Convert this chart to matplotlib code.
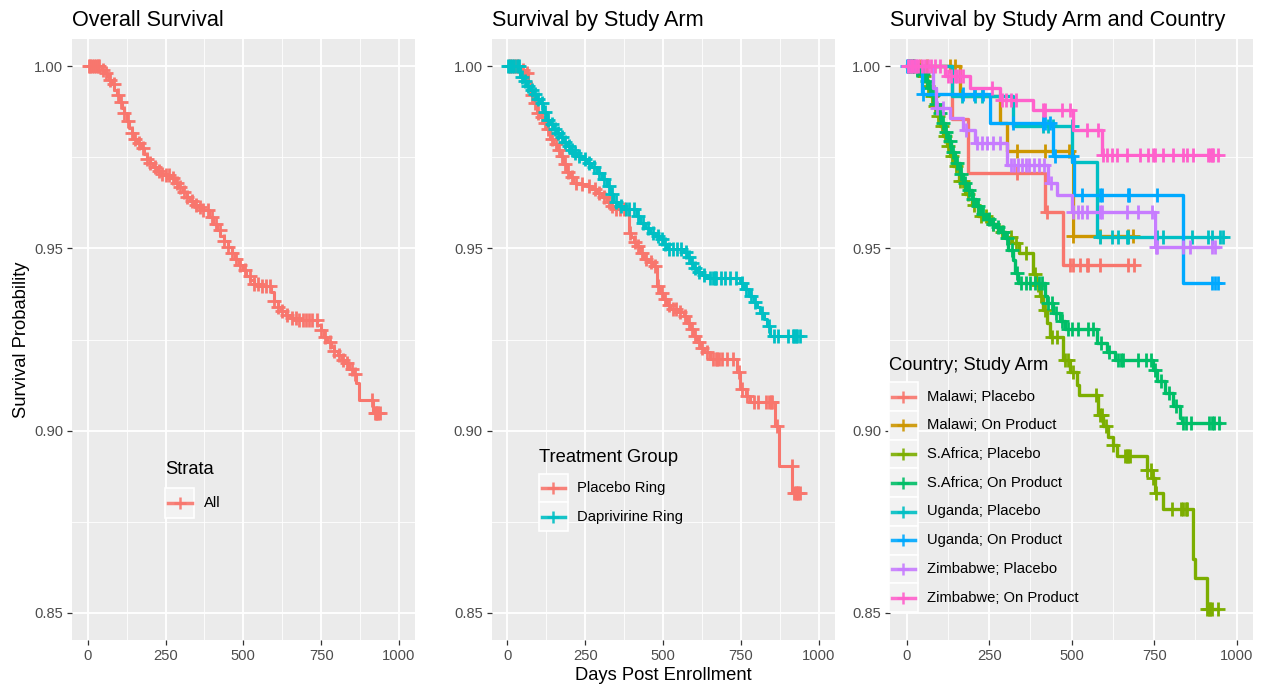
import numpy as np
import matplotlib
matplotlib.use("Agg")
import matplotlib.pyplot as plt
from matplotlib.patches import Rectangle
from matplotlib.lines import Line2D

W, H = 1264, 685
plt.rcParams['font.family'] = ['Liberation Sans', 'DejaVu Sans']

# ---------------- Overall survival (all participants) ----------------
all_t = [45, 55, 62, 70, 78, 86, 94, 102, 110, 118, 126, 134, 142, 150, 160, 170, 180, 190,
         200, 210, 222, 236, 252, 268, 282, 294, 306, 318, 330, 342, 356, 372, 390, 402, 414,
         426, 438, 450, 462, 474, 486, 498, 510, 522, 534, 560, 588, 598, 610, 622, 636, 652,
         672, 738, 748, 758, 768, 780, 792, 804, 816, 828, 840, 852, 862, 872, 917]
all_s = [0.9990, 0.9982, 0.9972, 0.9962, 0.9950, 0.9935, 0.9920, 0.9900, 0.9885, 0.9870,
         0.9850, 0.9830, 0.9815, 0.9800, 0.9788, 0.9775, 0.9760, 0.9745, 0.9733, 0.9722,
         0.9712, 0.9705, 0.9700, 0.9692, 0.9680, 0.9668, 0.9655, 0.9642, 0.9630, 0.9620,
         0.9612, 0.9606, 0.9585, 0.9568, 0.9550, 0.9535, 0.9520, 0.9503, 0.9487, 0.9470,
         0.9455, 0.9440, 0.9425, 0.9412, 0.9402, 0.9396, 0.9380, 0.9355, 0.9340, 0.9327,
         0.9318, 0.9310, 0.9303, 0.9290, 0.9275, 0.9258, 0.9242, 0.9230, 0.9218, 0.9208,
         0.9195, 0.9185, 0.9170, 0.9155, 0.9130, 0.9085, 0.9048]
all_end = 940
all_cens = [3, 8, 14, 20, 26, 32, 38, 48, 60, 72, 84, 96, 108, 118, 130, 142, 152, 165, 178,
            190, 200, 215, 228, 240, 252, 262, 274, 286, 298, 310, 320, 335, 348, 360, 372,
            386, 400, 412, 425, 438, 450, 462, 475, 490, 505, 520, 535, 548, 560, 572, 585,
            598, 612, 625, 640, 655, 668, 680, 690, 700, 710, 720, 735, 748, 762, 778, 792,
            806, 820, 834, 848, 858, 912, 922, 926, 930, 934, 940]

# ---------------- By study arm ----------------
pla_t = [45, 58, 68, 76, 84, 94, 104, 114, 126, 137, 148, 158, 169, 180, 190, 200, 212, 230,
         255, 272, 287, 303, 319, 330, 340, 389, 398, 407, 415, 426, 437, 452, 469, 480, 490,
         501, 512, 523, 545, 566, 577, 587, 598, 608, 619, 630, 651, 737, 748, 765, 780, 860,
         871, 914]
pla_s = [0.9990, 0.9980, 0.9955, 0.9920, 0.9898, 0.9872, 0.9860, 0.9845, 0.9826, 0.9800,
         0.9785, 0.9770, 0.9753, 0.9730, 0.9708, 0.9695, 0.9680, 0.9676, 0.9671, 0.9662,
         0.9653, 0.9640, 0.9626, 0.9615, 0.9607, 0.9543, 0.9530, 0.9518, 0.9507, 0.9488,
         0.9470, 0.9462, 0.9452, 0.9397, 0.9378, 0.9360, 0.9345, 0.9333, 0.9325, 0.9315,
         0.9296, 0.9278, 0.9260, 0.9242, 0.9228, 0.9215, 0.9196, 0.9160, 0.9114, 0.9095,
         0.9078, 0.9014, 0.8904, 0.8830]
pla_end = 940
pla_cens = [5, 12, 20, 28, 35, 50, 62, 80, 90, 100, 110, 122, 132, 145, 155, 165, 175, 185,
            195, 206, 220, 240, 262, 280, 295, 310, 325, 335, 350, 362, 375, 395, 410, 420,
            432, 445, 460, 475, 485, 495, 506, 518, 530, 540, 555, 570, 582, 592, 603, 614,
            625, 640, 660, 668, 672, 680, 690, 705, 725, 742, 752, 770, 790, 805, 830, 840,
            845, 850, 865, 912, 920, 925, 928, 932, 940]

dap_t = [42, 52, 62, 73, 84, 95, 105, 115, 126, 137, 148, 159, 170, 180, 191, 202, 212, 223,
         240, 255, 270, 287, 303, 319, 330, 340, 356, 373, 415, 426, 442, 458, 474, 490, 501,
         512, 566, 577, 587, 598, 608, 625, 641, 747, 758, 774, 790, 801, 812, 822, 833, 844]
dap_s = [0.9970, 0.9958, 0.9946, 0.9934, 0.9922, 0.9910, 0.9898, 0.9875, 0.9852, 0.9840,
         0.9828, 0.9816, 0.9804, 0.9792, 0.9780, 0.9771, 0.9762, 0.9753, 0.9744, 0.9735,
         0.9722, 0.9707, 0.9690, 0.9671, 0.9650, 0.9626, 0.9615, 0.9607, 0.9590, 0.9570,
         0.9556, 0.9543, 0.9534, 0.9525, 0.9512, 0.9498, 0.9489, 0.9475, 0.9461, 0.9447,
         0.9434, 0.9427, 0.9420, 0.9404, 0.9388, 0.9370, 0.9352, 0.9338, 0.9324, 0.9306,
         0.9288, 0.9260]
dap_end = 940
dap_cens = [2, 8, 15, 22, 30, 38, 48, 58, 68, 78, 90, 100, 110, 120, 132, 142, 153, 164, 175,
            186, 197, 208, 218, 230, 248, 262, 278, 295, 310, 325, 335, 348, 365, 380, 392,
            405, 418, 435, 450, 466, 482, 495, 506, 520, 530, 545, 558, 572, 582, 592, 603,
            615, 632, 650, 660, 665, 670, 685, 700, 715, 735, 752, 765, 782, 795, 818, 840,
            855, 870, 900, 915, 920, 925, 930, 938]

# ---------------- By study arm and country ----------------
mw_pl_t = [136, 187, 419, 475]
mw_pl_s = [0.9855, 0.9706, 0.9601, 0.9455]
mw_pl_end = 690
mw_pl_cens = [15, 40, 333, 424, 495, 505, 526, 547, 550, 586, 671, 690]

mw_op_t = [161, 283, 303, 504]
mw_op_s = [0.9918, 0.9845, 0.9767, 0.9535]
mw_op_end = 686
mw_op_cens = [20, 60, 131, 145, 333, 419, 493, 505, 586, 671, 686]

sa_pl_t = [25, 45, 61, 71, 81, 91, 101, 111, 121, 131, 141, 157, 177, 197, 217, 247, 278, 300,
           320, 340, 383, 393, 403, 413, 424, 434, 475, 495, 515, 522, 581, 596, 611, 625,
           636, 727, 742, 752, 778, 869, 874, 909]
sa_pl_s = [0.9990, 0.9972, 0.9945, 0.9918, 0.9890, 0.9862, 0.9835, 0.9808, 0.9780, 0.9752,
           0.9725, 0.9685, 0.9648, 0.9620, 0.9590, 0.9568, 0.9545, 0.9530, 0.9515, 0.9487,
           0.9430, 0.9400, 0.9370, 0.9330, 0.9295, 0.9258, 0.9195, 0.9160, 0.9125, 0.9099,
           0.9043, 0.9012, 0.8984, 0.8960, 0.8930, 0.8893, 0.8870, 0.8830, 0.8784, 0.8647,
           0.8597, 0.8510]
sa_pl_end = 944
sa_pl_cens = [5, 12, 22, 38, 52, 66, 76, 86, 96, 106, 116, 126, 136, 148, 162, 172, 185, 205,
              225, 240, 260, 290, 315, 330, 360, 388, 398, 408, 420, 440, 455, 480, 490, 505,
              575, 585, 592, 603, 626, 660, 668, 672, 676, 727, 740, 747, 755, 803, 830, 838,
              845, 850, 909, 917, 920, 925, 944]

sa_op_t = [22, 40, 55, 65, 75, 85, 95, 105, 115, 125, 135, 147, 160, 172, 185, 197, 210, 225,
           240, 255, 270, 285, 298, 308, 323, 328, 338, 420, 424, 444, 464, 480, 576, 606,
           630, 747, 758, 783, 808, 828, 833]
sa_op_s = [0.9990, 0.9978, 0.9960, 0.9940, 0.9920, 0.9895, 0.9870, 0.9845, 0.9820, 0.9795,
           0.9765, 0.9735, 0.9705, 0.9680, 0.9660, 0.9635, 0.9615, 0.9595, 0.9580, 0.9568,
           0.9558, 0.9545, 0.9528, 0.9496, 0.9468, 0.9432, 0.9405, 0.9370, 0.9350, 0.9323,
           0.9300, 0.9279, 0.9240, 0.9215, 0.9195, 0.9167, 0.9135, 0.9103, 0.9067, 0.9035,
           0.9021]
sa_op_end = 949
sa_op_cens = [3, 10, 18, 30, 48, 60, 70, 80, 90, 100, 110, 120, 130, 140, 152, 165, 178, 190,
              202, 215, 232, 248, 262, 278, 292, 304, 318, 335, 345, 360, 375, 388, 400, 410,
              428, 440, 452, 470, 490, 500, 520, 550, 565, 590, 612, 640, 650, 655, 700, 725,
              740, 752, 770, 795, 815, 838, 845, 860, 915, 925, 930, 945]

ug_pl_t = [136, 323, 502, 577]
ug_pl_s = [0.9918, 0.9836, 0.9737, 0.9532]
ug_pl_end = 959
ug_pl_cens = [5, 15, 167, 207, 227, 413, 428, 443, 500, 586, 621, 641, 667, 671, 758, 778,
              838, 864, 914, 924, 949, 959]

ug_op_t = [45, 252, 444, 508, 838]
ug_op_s = [0.9922, 0.9843, 0.9752, 0.9647, 0.9405]
ug_op_end = 944
ug_op_cens = [2, 50, 172, 205, 230, 323, 414, 420, 434, 450, 500, 530, 586, 591, 671, 675,
              758, 924, 935, 944]

zw_pl_t = [81, 88, 131, 170, 207, 303, 428, 454, 501, 752]
zw_pl_s = [0.9940, 0.9885, 0.9858, 0.9825, 0.9790, 0.9729, 0.9680, 0.9647, 0.9601, 0.9505]
zw_pl_end = 944
zw_pl_cens = [4, 12, 25, 92, 110, 180, 212, 227, 242, 262, 283, 315, 325, 338, 350, 360, 372,
              385, 400, 415, 438, 505, 520, 530, 545, 586, 591, 667, 702, 742, 755, 758, 838,
              858, 924, 935]

zw_op_t = [116, 193, 283, 384, 505, 591]
zw_op_s = [0.9972, 0.9939, 0.9907, 0.9880, 0.9825, 0.9757]
zw_op_end = 944
zw_op_cens = [5, 12, 20, 28, 35, 45, 55, 65, 75, 85, 100, 125, 135, 145, 152, 160, 170, 258,
              290, 300, 315, 330, 413, 420, 470, 495, 545, 580, 596, 606, 621, 636, 667, 707,
              732, 747, 752, 778, 808, 838, 848, 869, 914, 920, 925, 929, 944]

country_labels = ["Malawi; Placebo", "Malawi; On Product", "S.Africa; Placebo",
                  "S.Africa; On Product", "Uganda; Placebo", "Uganda; On Product",
                  "Zimbabwe; Placebo", "Zimbabwe; On Product"]
country_colors = ["#F8766D", "#CD9600", "#7CAE00", "#00BE67",
                  "#00BFC4", "#00A9FF", "#C77CFF", "#FF61CC"]
country_data = [(mw_pl_t, mw_pl_s, mw_pl_end, mw_pl_cens),
                (mw_op_t, mw_op_s, mw_op_end, mw_op_cens),
                (sa_pl_t, sa_pl_s, sa_pl_end, sa_pl_cens),
                (sa_op_t, sa_op_s, sa_op_end, sa_op_cens),
                (ug_pl_t, ug_pl_s, ug_pl_end, ug_pl_cens),
                (ug_op_t, ug_op_s, ug_op_end, ug_op_cens),
                (zw_pl_t, zw_pl_s, zw_pl_end, zw_pl_cens),
                (zw_op_t, zw_op_s, zw_op_end, zw_op_cens)]

RED, TEAL = "#F8766D", "#00BFC4"


def draw_km(ax, et, es, end, cens, color, lw=2.2):
    t = np.concatenate([[0], et, [end]])
    s = np.concatenate([[1.0], es, [es[-1]]])
    ax.step(t, s, where='post', color=color, lw=lw)
    levels = np.concatenate([[1.0], es])
    cy = levels[np.searchsorted(et, cens, side='right')]
    ax.plot(cens, cy, ls='none', marker='+', ms=10, mew=2.0, color=color)


def style(ax, title):
    ax.set_facecolor('#EBEBEB')
    ax.set_xlim(-50, 1050)
    ax.set_ylim(0.8425, 1.0075)
    ax.set_xticks([0, 250, 500, 750, 1000])
    ax.set_xticks([125, 375, 625, 875], minor=True)
    ax.set_yticks([0.85, 0.90, 0.95, 1.00])
    ax.set_yticklabels(['0.85', '0.90', '0.95', '1.00'])
    ax.set_yticks([0.875, 0.925, 0.975], minor=True)
    ax.grid(which='major', color='white', lw=1.3)
    ax.grid(which='minor', color='white', lw=0.6)
    ax.set_axisbelow(True)
    for sp in ax.spines.values():
        sp.set_visible(False)
    ax.tick_params(which='major', length=3.3, width=0.9, color='#333333',
                   labelsize=10.6, labelcolor='#4D4D4D', pad=3)
    ax.tick_params(which='minor', length=0)
    ax.set_title(title, loc='left', fontsize=15.6, pad=9)


def px_axes(left, right, top=38.65, bottom=640.35):
    return fig.add_axes([left / W, 1 - bottom / H, (right - left) / W, (bottom - top) / H])


def draw_legend(title, labels, colors, x0, title_y, row_y0, row_h=28.7, key_w=28.7):
    fig.text(x0 / W, 1 - title_y / H, title, fontsize=13.2, va='center', ha='left')
    for i, (lab, col) in enumerate(zip(labels, colors)):
        yc = row_y0 + i * row_h
        fig.add_artist(Rectangle((x0 / W, 1 - (yc + row_h / 2) / H), key_w / W, row_h / H,
                                 transform=fig.transFigure, facecolor='#F2F2F2',
                                 edgecolor='white', lw=1.2))
        fig.add_artist(Line2D([(x0 + 3) / W, (x0 + key_w - 3) / W], [1 - yc / H] * 2,
                              transform=fig.transFigure, color=col, lw=2.5, alpha=0.9))
        fig.add_artist(Line2D([(x0 + key_w / 2) / W], [1 - yc / H], marker='+', ms=9,
                              mew=1.8, color=col, alpha=0.9, transform=fig.transFigure))
        fig.text((x0 + key_w + 9) / W, 1 - yc / H, lab, fontsize=10.6, va='center', ha='left')


fig = plt.figure(figsize=(W / 100, H / 100), dpi=100)

ax1 = px_axes(72.1, 414.6)
ax2 = px_axes(491.7, 834.6)
ax3 = px_axes(890.2, 1253.2)

style(ax1, "Overall Survival")
style(ax2, "Survival by Study Arm")
style(ax3, "Survival by Study Arm and Country")

draw_km(ax1, all_t, all_s, all_end, all_cens, RED)
draw_km(ax2, pla_t, pla_s, pla_end, pla_cens, RED)
draw_km(ax2, dap_t, dap_s, dap_end, dap_cens, TEAL)
for (et, es, end, cens), col in zip(country_data, country_colors):
    draw_km(ax3, et, es, end, cens, col, lw=2.4)

ax1.set_ylabel("Survival Probability", fontsize=13.2, labelpad=3)
ax2.set_xlabel("Days Post Enrollment", fontsize=13.2, labelpad=3)

draw_legend("Strata", ["All"], [RED], 165, 470, 503, row_h=29.5, key_w=29.5)
draw_legend("Treatment Group", ["Placebo Ring", "Daprivirine Ring"], [RED, TEAL], 539, 457, 488)
draw_legend("Country; Study Arm", country_labels, country_colors, 889, 366, 396.7)

fig.savefig("out.png", dpi=100)
